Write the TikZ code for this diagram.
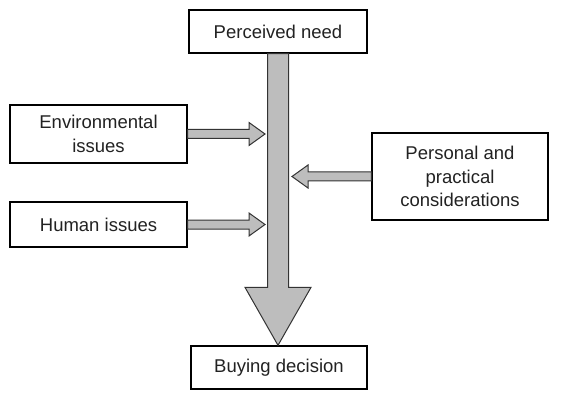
\documentclass[tikz,border=0pt]{standalone}
\usepackage{fontspec}
\setmainfont{Liberation Sans}
\usetikzlibrary{calc}
\definecolor{ink}{HTML}{222222}
\definecolor{shade}{HTML}{BDBDBD}
\newcommand{\txt}{\fontsize{18.5}{23.5}\selectfont}
% horizontal feeding arrow: from anchor #1 to the x of #2, #3 = 1 (right) or -1 (left)
\newcommand{\feed}[3]{\draw[fat] let \p1=(#1), \p2=(#2), \n1={(#3)*16pt} in
	(\x1,\y1+4.5pt) -- (\x2-\n1,\y1+4.5pt) -- (\x2-\n1,\y1+11.5pt)
	-- (\x2,\y1) -- (\x2-\n1,\y1-11.5pt) -- (\x2-\n1,\y1-4.5pt)
	-- (\x1,\y1-4.5pt) -- cycle}

\begin{document}
\begin{tikzpicture}[x=1pt,y=-1pt,
	box/.style={draw=black, line width=1.3pt, fill=white, inner sep=0pt,
		align=center, text=ink, font=\txt},
	fat/.style={draw=black!80, line width=1pt, fill=shade, line join=miter}]
	\useasboundingbox (0,0) rectangle (561,403);
	\node[box, minimum width=178, minimum height=43] (need) at (278,31.5) {Perceived need};
	\node[box, minimum width=177, minimum height=58] (env) at (98.5,134) {Environmental\\issues};
	\node[box, minimum width=177, minimum height=45] (human) at (98.5,224.5) {Human issues};
	\node[box, minimum width=176, minimum height=87] (pers) at (460,176.5) {Personal and\\practical\\considerations};
	\node[box, minimum width=176, minimum height=43] (buy) at (279,367.5) {Buying decision};
	% where the side arrows stop
	\coordinate (lhit) at (265,0);
	\coordinate (rhit) at (292,0);
	% main arrow
	\draw[fat] let \p1=(need.south), \p2=(buy.north) in
		(\x1-10.5pt,\y1) -- (\x1-10.5pt,\y2+58pt) -- (\x1-33pt,\y2+58pt) -- (\x1,\y2)
		-- (\x1+33pt,\y2+58pt) -- (\x1+10.5pt,\y2+58pt) -- (\x1+10.5pt,\y1) -- cycle;
	\feed{env.east}{lhit}{1};
	\feed{human.east}{lhit}{1};
	\feed{pers.west}{rhit}{-1};
\end{tikzpicture}
\end{document}
